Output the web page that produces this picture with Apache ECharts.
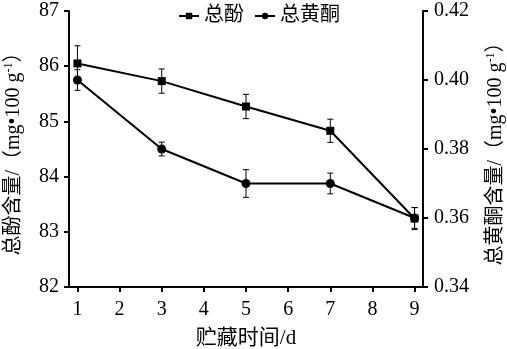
<!DOCTYPE html>
<html>
<head>
<meta charset="utf-8">
<script src="https://cdn.jsdelivr.net/npm/echarts@6/dist/echarts.min.js"></script>
<style>
  html, body { margin: 0; padding: 0; background: #fff; }
  #chart { width: 507px; height: 349px; }
</style>
</head>
<body>
<div id="chart"></div>
<script>
// Storage time (days)
const days = [1, 3, 5, 7, 9];
const xTicks = [1, 2, 3, 4, 5, 6, 7, 8, 9];

// Total phenols, mg/100 g (left axis)
const phenol = [86.05, 85.73, 85.27, 84.83, 83.24];
const phenolErr = [0.32, 0.22, 0.22, 0.21, 0.20];

// Total flavonoids, mg/100 g (right axis)
const flavonoid = [0.400, 0.380, 0.370, 0.370, 0.360];
const flavonoidErr = [0.003, 0.002, 0.004, 0.003, 0.003];

const FONT = '"Liberation Serif", "Noto Sans CJK SC", serif';

function pairs(xs, ys) { return xs.map((x, i) => [x, ys[i]]); }
function errData(xs, ys, es) { return xs.map((x, i) => [x, ys[i] - es[i], ys[i] + es[i]]); }

// Vertical error bar with short caps
function renderErr(params, api) {
  const x = api.value(0);
  const lo = api.coord([x, api.value(1)]);
  const hi = api.coord([x, api.value(2)]);
  const cap = 3;
  const style = { stroke: '#000', lineWidth: 1, fill: null };
  return {
    type: 'group',
    children: [
      { type: 'line', shape: { x1: lo[0], y1: lo[1], x2: hi[0], y2: hi[1] }, style },
      { type: 'line', shape: { x1: hi[0] - cap, y1: hi[1], x2: hi[0] + cap, y2: hi[1] }, style },
      { type: 'line', shape: { x1: lo[0] - cap, y1: lo[1], x2: lo[0] + cap, y2: lo[1] }, style }
    ]
  };
}

const axisCommon = {
  axisLine: { show: true, lineStyle: { color: '#000', width: 2 } },
  axisTick: { show: true, inside: false, length: 5, lineStyle: { color: '#000', width: 2 } },
  axisLabel: { color: '#000', fontFamily: FONT, fontSize: 20 },
  splitLine: { show: false },
  nameTextStyle: {
    color: '#000', fontFamily: FONT, fontSize: 20,
    rich: { sup: { fontSize: 12, fontFamily: FONT, color: '#000', padding: [0, 0, 10, 0] } }
  }
};

const chart = echarts.init(document.getElementById('chart'), null, { renderer: 'canvas' });
chart.setOption({
  animation: false,
  backgroundColor: '#fff',
  textStyle: { fontFamily: FONT },
  grid: { left: 69, right: 84, top: 11, bottom: 62, containLabel: false, outerBoundsMode: 'none' },
  legend: {
    top: 1,
    left: 173,
    itemWidth: 20,
    itemHeight: 8,
    itemGap: 10,
    textStyle: { color: '#000', fontFamily: FONT, fontSize: 20 },
    data: ['总酚', '总黄酮']
  },
  xAxis: {
    type: 'value',
    min: 0.8,
    max: 9.2,
    name: '贮藏时间/d',
    nameLocation: 'middle',
    nameGap: 41,
    ...axisCommon,
    nameTextStyle: { color: '#000', fontFamily: FONT, fontSize: 21 },
    axisTick: { ...axisCommon.axisTick, customValues: xTicks },
    axisLabel: { ...axisCommon.axisLabel, customValues: xTicks, margin: 13 }
  },
  yAxis: [
    {
      type: 'value',
      min: 82, max: 87, interval: 1,
      position: 'left',
      name: '总酚含量/（mg•100 g{sup|-1}）',
      nameLocation: 'middle',
      nameRotate: 90,
      nameGap: 44,
      ...axisCommon,
      axisLabel: { ...axisCommon.axisLabel, margin: 10 }
    },
    {
      type: 'value',
      min: 0.34, max: 0.42, interval: 0.02,
      position: 'right',
      name: '总黄酮含量/（mg•100 g{sup|-1}）',
      nameLocation: 'middle',
      nameRotate: 90,
      nameGap: 62,
      ...axisCommon,
      axisLabel: { ...axisCommon.axisLabel, margin: 11, formatter: v => v.toFixed(2) }
    }
  ],
  series: [
    {
      name: '总酚',
      type: 'line',
      yAxisIndex: 0,
      data: pairs(days, phenol),
      symbol: 'rect',
      symbolSize: 8,
      itemStyle: { color: '#000' },
      lineStyle: { color: '#000', width: 2 },
      z: 3
    },
    {
      name: '总黄酮',
      type: 'line',
      yAxisIndex: 1,
      data: pairs(days, flavonoid),
      symbol: 'circle',
      symbolSize: 9,
      itemStyle: { color: '#000' },
      lineStyle: { color: '#000', width: 2 },
      z: 3
    },
    {
      type: 'custom',
      yAxisIndex: 0,
      renderItem: renderErr,
      data: errData(days, phenol, phenolErr),
      encode: { x: 0, y: [1, 2] },
      z: 2,
      silent: true
    },
    {
      type: 'custom',
      yAxisIndex: 1,
      renderItem: renderErr,
      data: errData(days, flavonoid, flavonoidErr),
      encode: { x: 0, y: [1, 2] },
      z: 2,
      silent: true
    }
  ]
});
</script>
</body>
</html>
